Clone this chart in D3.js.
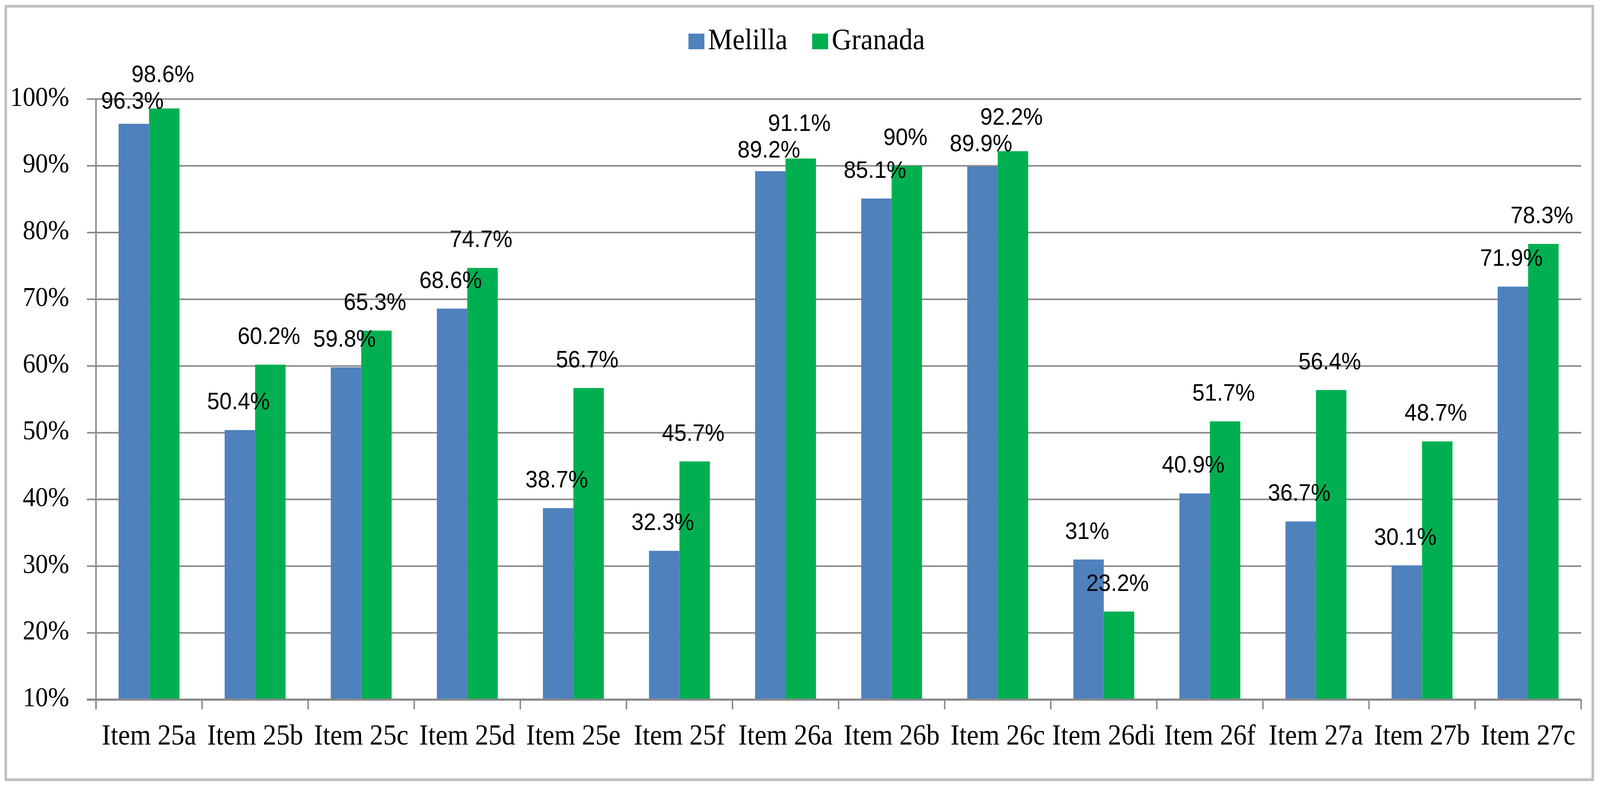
<!DOCTYPE html>
<html>
<head>
<meta charset="utf-8">
<script src="https://cdn.jsdelivr.net/npm/d3@7"></script>
<style>
  html, body { margin: 0; padding: 0; background: #fff; overflow: hidden; }
  #chart { width: 100vw; height: 100vh; }
  #chart svg { display: block; }
</style>
</head>
<body>
<div id="chart"></div>
<script>
// data
const items = ["Item 25a", "Item 25b", "Item 25c", "Item 25d", "Item 25e", "Item 25f", "Item 26a",
               "Item 26b", "Item 26c", "Item 26di", "Item 26f", "Item 27a", "Item 27b", "Item 27c"];
const seriesNames = ["Melilla", "Granada"];
const melilla = [96.3, 50.4, 59.8, 68.6, 38.7, 32.3, 89.2, 85.1, 89.9, 31, 40.9, 36.7, 30.1, 71.9];
const granada = [98.6, 60.2, 65.3, 74.7, 56.7, 45.7, 91.1, 90, 92.2, 23.2, 51.7, 56.4, 48.7, 78.3];
const yTicks = [10, 20, 30, 40, 50, 60, 70, 80, 90, 100];

const colors = { Melilla: "#4f81bd", Granada: "#00b050" };

const W = 4417, H = 2011;
const plot = { left: 265, right: 4365, top: 253.6, bottom: 1790 };
const serif = "'Liberation Serif', 'Times New Roman', serif";
const sans = "'Liberation Sans', Arial, sans-serif";
const gridColor = "#898989";

// viewBox stretched to the viewport so the chart always fills the window
const svg = d3.select("#chart").append("svg")
    .attr("viewBox", `0 0 ${W} ${H}`)
    .attr("preserveAspectRatio", "none")
    .style("width", "100%")
    .style("height", "100%");

// outer frame
svg.append("rect")
    .attr("x", 16).attr("y", 16)
    .attr("width", 4381).attr("height", 1979)
    .attr("fill", "#fff")
    .attr("stroke", "#bfbfbf")
    .attr("stroke-width", 7);

// scales
const x0 = d3.scaleBand()
    .domain(items)
    .range([plot.left, plot.right])
    .padding(0);

const x1 = d3.scaleBand()
    .domain(seriesNames)
    .range([0, x0.bandwidth()])
    .paddingInner(0)
    .paddingOuter(0.742);

const y = d3.scaleLinear()
    .domain([10, 100])
    .range([plot.bottom, plot.top]);

// gridlines
svg.append("g")
    .selectAll("line")
    .data(yTicks)
    .enter()
    .append("line")
    .attr("x1", plot.left - 25)
    .attr("x2", plot.right)
    .attr("y1", d => y(d))
    .attr("y2", d => y(d))
    .attr("stroke", gridColor)
    .attr("stroke-width", d => d === 10 ? 5 : 4);

// y labels
svg.append("g")
    .selectAll("text")
    .data(yTicks)
    .enter()
    .append("text")
    .attr("x", 191)
    .attr("y", d => y(d) + 17)
    .attr("text-anchor", "end")
    .attr("font-family", serif)
    .attr("font-size", 70)
    .attr("fill", "#000")
    .text(d => d + "%");

// bars
const rows = items.map((it, i) => ({ item: it, Melilla: melilla[i], Granada: granada[i] }));

const groups = svg.append("g")
    .selectAll("g")
    .data(rows)
    .enter()
    .append("g")
    .attr("transform", d => `translate(${x0(d.item)},0)`);

groups.selectAll("rect")
    .data(d => seriesNames.map(s => ({ series: s, value: d[s] })))
    .enter()
    .append("rect")
    .attr("x", d => x1(d.series))
    .attr("width", x1.bandwidth())
    .attr("y", d => y(d.value))
    .attr("height", d => y(10) - y(d.value))
    .attr("fill", d => colors[d.series]);

// y axis line
svg.append("line")
    .attr("x1", plot.left).attr("x2", plot.left)
    .attr("y1", plot.top).attr("y2", plot.bottom + 25)
    .attr("stroke", gridColor).attr("stroke-width", 4);

// x axis baseline redrawn over the bars
svg.append("line")
    .attr("x1", plot.left - 25).attr("x2", plot.right)
    .attr("y1", plot.bottom).attr("y2", plot.bottom)
    .attr("stroke", gridColor).attr("stroke-width", 5);

// category tick marks at band edges
const edges = items.map(d => x0(d)).concat([plot.right]);
svg.append("g")
    .selectAll("line")
    .data(edges)
    .enter()
    .append("line")
    .attr("x1", d => d).attr("x2", d => d)
    .attr("y1", plot.bottom).attr("y2", plot.bottom + 25)
    .attr("stroke", gridColor).attr("stroke-width", 4);

// category labels
svg.append("g")
    .selectAll("text")
    .data(items)
    .enter()
    .append("text")
    .attr("x", d => x0(d) + x0.bandwidth() / 2)
    .attr("y", 1905)
    .attr("text-anchor", "middle")
    .attr("font-family", serif)
    .attr("font-size", 74)
    .attr("fill", "#000")
    .text(d => d);

// data labels: above the bar, pushed apart when the pair would collide
const labelGap = 53, minSep = 68;
const labels = [];
rows.forEach(r => {
    let yb = y(r.Melilla) - labelGap;
    let yg = y(r.Granada) - labelGap;
    const diff = Math.abs(yb - yg);
    if (diff < minSep) {
        const d = (minSep - diff) / 2;
        if (yb >= yg) { yb += d; yg -= d; } else { yb -= d; yg += d; }
    }
    labels.push({ item: r.item, series: "Melilla", value: r.Melilla, y: yb });
    labels.push({ item: r.item, series: "Granada", value: r.Granada, y: yg });
});

svg.append("g")
    .selectAll("text")
    .data(labels)
    .enter()
    .append("text")
    .attr("x", d => x0(d.item) + x1(d.series) + x1.bandwidth() / 2 - 4)
    .attr("y", d => d.y)
    .attr("text-anchor", "middle")
    .attr("font-family", sans)
    .attr("font-size", 61)
    .attr("fill", "#000")
    .text(d => d.value + "%");

// legend
const legend = svg.append("g");
const keyW = 44, keyH = 40, baseY = 126;
const entries = [];
seriesNames.forEach(s => {
    const g = legend.append("g");
    g.append("rect")
        .attr("x", 0).attr("y", baseY - keyH)
        .attr("width", keyW).attr("height", keyH)
        .attr("fill", colors[s]);
    const t = g.append("text")
        .attr("x", keyW + 10)
        .attr("y", baseY)
        .attr("font-family", serif)
        .attr("font-size", 76)
        .attr("fill", "#000")
        .text(s);
    entries.push({ g: g, w: keyW + 10 + t.node().getComputedTextLength() });
});
const spacing = 68;
const total = d3.sum(entries, e => e.w) + spacing * (entries.length - 1);
let start = 2227 - total / 2;
entries.forEach(e => {
    e.g.attr("transform", `translate(${start},0)`);
    start += e.w + spacing;
});
</script>
</body>
</html>
